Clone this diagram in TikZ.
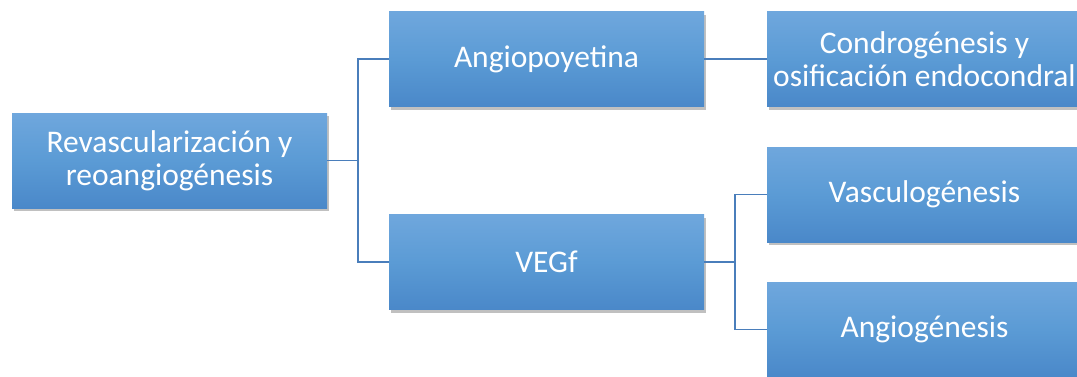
\documentclass[tikz,border=0pt]{standalone}
\usepackage{fontspec}
\setmainfont{Carlito}
\usetikzlibrary{shadows}
\definecolor{boxtop}{HTML}{6FA7DD}
\definecolor{boxmid}{HTML}{5B9BD5}
\definecolor{boxbot}{HTML}{4A88C9}
\definecolor{linecol}{HTML}{4A7EBB}
\tikzset{
  box/.style={rectangle, minimum width=315pt, minimum height=95pt, inner sep=0pt,
    top color=boxtop, bottom color=boxbot, middle color=boxmid, text=white,
    align=center, font=\fontsize{31.5}{33}\selectfont,
    drop shadow={shadow xshift=2pt, shadow yshift=-3pt, opacity=0.35, fill=black!70}},
  conn/.style={draw=linecol, line width=1.3pt}
}
\begin{document}
\begin{tikzpicture}[x=1pt,y=-1pt]
\useasboundingbox (0,0) rectangle (1077,376);
\clip (0,0) rectangle (1077,376);
\fill[white] (0,0) rectangle (1077,376);
\node[box] (rv) at (169.5,160.5) {Revascularización y\\reoangiogénesis};
\node[box] (ang) at (546.5,59) {Angiopoyetina};
\node[box] (veg) at (546.5,262) {VEGf};
\node[box] (con) at (924.5,59) {Condrogénesis y\\osificación endocondral};
\node[box] (vas) at (924.5,194.5) {Vasculogénesis};
\node[box] (agi) at (924.5,329.5) {Angiogénesis};
\coordinate (j1) at (358,160.5);
\coordinate (j2) at (735,262);
\draw[conn] (rv.east) -- (j1);
\draw[conn] (ang.west) -| (j1) |- (veg.west);
\draw[conn] (ang.east) -- (con.west);
\draw[conn] (veg.east) -- (j2);
\draw[conn] (vas.west) -| (j2) |- (agi.west);
\end{tikzpicture}
\end{document}
